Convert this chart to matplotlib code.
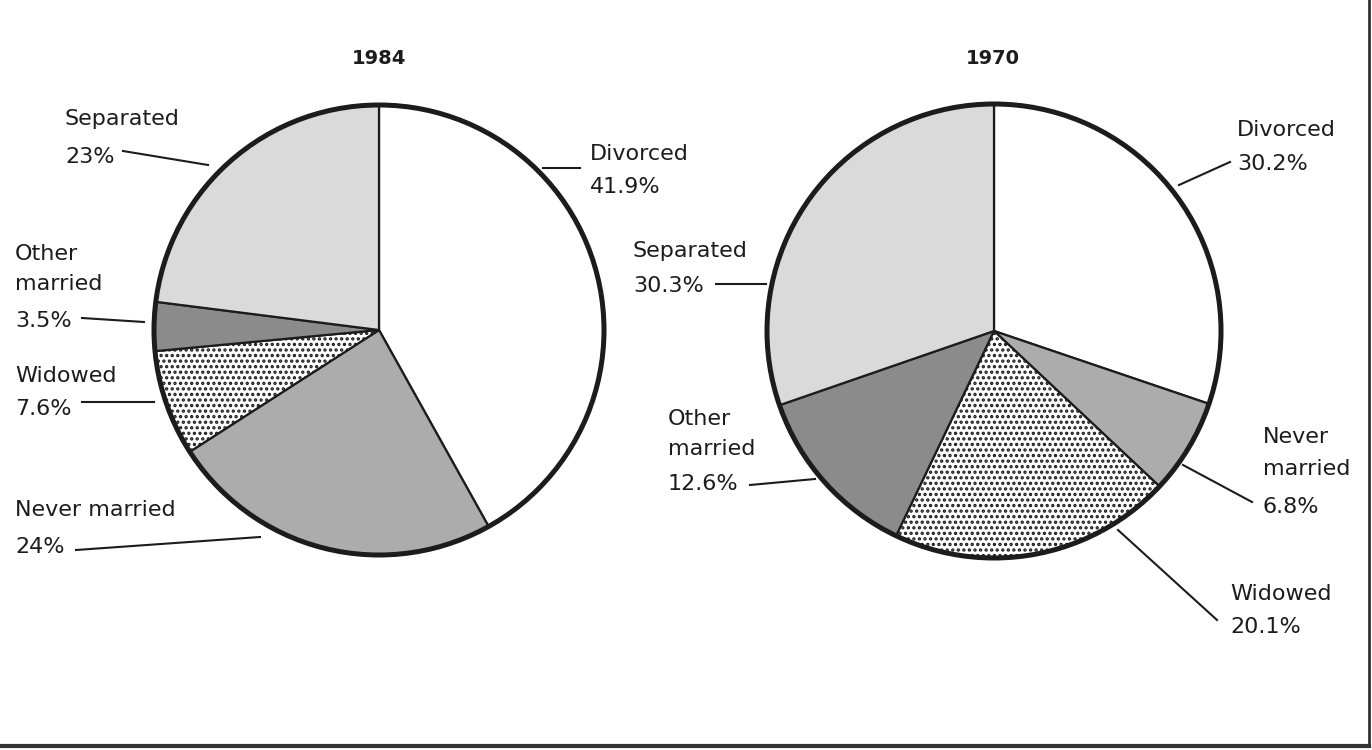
import matplotlib
matplotlib.use('Agg')
import matplotlib.pyplot as plt
from matplotlib.patches import Circle

# datos de las dos tortas (orden horario desde las 12)
categorias = ['Divorced', 'Never married', 'Widowed', 'Other married', 'Separated']
valores_1984 = [41.9, 24, 7.6, 3.5, 23]
valores_1970 = [30.2, 6.8, 20.1, 12.6, 30.3]
titulos = ['1984', '1970']

colores = ['white', '#acacac', 'white', '#8b8b8b', '#dadada']
tramas = [None, None, '...', None, None]

W, H = 1372, 750
TINTA = '#1c1c1c'

plt.rcParams['font.family'] = ['DejaVu Sans']
plt.rcParams['hatch.linewidth'] = 1.6


def py(y):
    # coordenada de pixel (desde arriba) a coordenada de datos
    return H - y


# posiciones de las etiquetas: x, lineas del nombre, baselines, baseline del valor, linea guia
etiquetas_1984 = {
    'Divorced': (590, ['Divorced'], [160], 193, ((543, 168), (580, 168))),
    'Never married': (15, ['Never married'], [516], 553, ((76, 550), (260, 537))),
    'Widowed': (15, ['Widowed'], [382], 415, ((82, 402), (154, 402))),
    'Other married': (15, ['Other', 'married'], [260, 290], 327, ((82, 318), (144, 322))),
    'Separated': (65, ['Separated'], [125], 163, ((123, 151), (208, 165))),
}
etiquetas_1970 = {
    'Divorced': (1237, ['Divorced'], [136], 170, ((1179, 185), (1230, 162))),
    'Never married': (1263, ['Never', 'married'], [443, 475], 513, ((1183, 465), (1252, 502))),
    'Widowed': (1230, ['Widowed'], [600], 633, ((1118, 530), (1217, 620))),
    'Other married': (668, ['Other', 'married'], [425, 455], 490, ((750, 485), (815, 479))),
    'Separated': (633, ['Separated'], [257], 292, ((716, 284), (766, 284))),
}

tortas = [
    (valores_1984, (379, 330), 225, etiquetas_1984, 379),
    (valores_1970, (994, 331), 227, etiquetas_1970, 993),
]

fig = plt.figure(figsize=(W / 100, H / 100), dpi=100)
ax = fig.add_axes([0, 0, 1, 1])

for (valores, (cx, cy), r, etiquetas, tx), titulo in zip(tortas, titulos):
    ax.pie(valores, colors=colores, hatch=tramas, startangle=90, counterclock=False,
           center=(cx, py(cy)), radius=r,
           wedgeprops=dict(edgecolor=TINTA, linewidth=1.6))
    ax.add_patch(Circle((cx, py(cy)), r, fill=False, edgecolor=TINTA, linewidth=3.6, zorder=5))
    ax.text(tx, py(58), titulo, ha='center', va='center', fontsize=14,
            fontweight='bold', color=TINTA)

    for cat, v in zip(categorias, valores):
        x, nombres, bases, base_valor, guia = etiquetas[cat]
        for nombre, b in zip(nombres, bases):
            ax.text(x, py(b), nombre, ha='left', va='baseline', fontsize=16, color=TINTA)
        ax.text(x, py(base_valor), f'{v:g}%', ha='left', va='baseline', fontsize=16, color=TINTA)
        (x0, y0), (x1, y1) = guia
        ax.plot([x0, x1], [py(y0), py(y1)], color=TINTA, linewidth=1.5)

# marco a la derecha y abajo
ax.plot([1369, 1369], [py(0), py(746)], color='#333333', linewidth=2)
ax.plot([0, 1369], [py(746), py(746)], color='#333333', linewidth=3)

ax.set_xlim(0, W)
ax.set_ylim(0, H)
ax.set_aspect('equal')
ax.axis('off')

fig.savefig('out.png', dpi=100)
